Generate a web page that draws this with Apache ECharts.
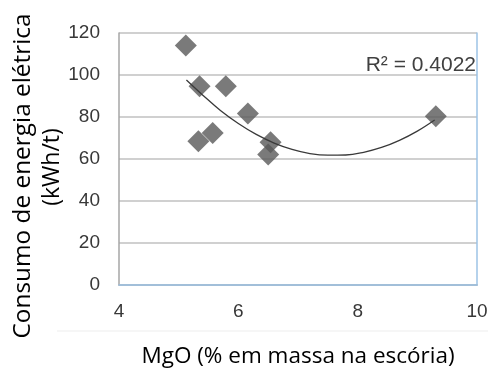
<!DOCTYPE html>
<html><head><meta charset="utf-8">
<script src="https://cdn.jsdelivr.net/npm/echarts@6/dist/echarts.min.js"></script>
<style>html,body{margin:0;padding:0;background:#fff}#c{width:488px;height:374px}</style>
</head><body><div id="c"></div>
<script>
const mgo = [5.12, 5.35, 5.79, 6.16, 5.33, 5.57, 6.54, 6.50, 9.31];
const energia = [114, 94.7, 94.7, 81.7, 68.4, 72.4, 68.0, 62.1, 80.4];
const trendX = [5.13, 5.4, 5.7, 6.0, 6.3, 6.6, 6.9, 7.2, 7.5, 7.8, 8.1, 8.4, 8.7, 9.0, 9.29];
const trendY = [97.6, 90.5, 83.1, 76.9, 71.7, 67.6, 64.6, 62.6, 61.8, 61.9, 63.2, 65.5, 68.9, 73.3, 78.6];
const xTicks = [4, 6, 8, 10];
const yTicks = [0, 20, 40, 60, 80, 100, 120];
const xTitle = 'MgO (% em massa na escória)';
const yTitle = ['Consumo de energia elétrica', '(kWh/t)'];
const r2Text = 'R² = 0.4022';

const chart = echarts.init(document.getElementById('c'), null, {renderer: 'canvas'});
const tickFont = {fontFamily: 'Liberation Sans', fontSize: 19, color: '#383838'};
chart.setOption({
  animation: false,
  grid: {left: 119, right: 11, top: 33, bottom: 89, outerBoundsMode: 'none', containLabel: false},
  xAxis: [{
    type: 'value', min: xTicks[0], max: xTicks[xTicks.length - 1], interval: 2,
    axisLine: {lineStyle: {color: '#a6a6a6', width: 1.5}},
    axisTick: {show: false}, splitLine: {show: false},
    axisLabel: Object.assign({margin: 17}, tickFont),
    name: xTitle, nameLocation: 'middle', nameGap: 60,
    nameTextStyle: {fontFamily: 'Open Sans', fontSize: 22.5, color: '#000'}
  }, {
    type: 'value', position: 'top', min: 4, max: 10, interval: 2,
    axisLine: {show: true, lineStyle: {color: '#9dc3e6', width: 1.5}},
    axisTick: {show: false}, axisLabel: {show: false}, splitLine: {show: false}
  }],
  yAxis: [{
    type: 'value', min: yTicks[0], max: yTicks[yTicks.length - 1], interval: 20,
    axisLine: {show: true, lineStyle: {color: '#a6a6a6', width: 1.5}},
    axisTick: {show: false},
    splitLine: {lineStyle: {color: '#c0c0c0', width: 1.5}},
    axisLabel: Object.assign({margin: 19}, tickFont)
  }, {
    type: 'value', position: 'right', min: 0, max: 120, interval: 20,
    axisLine: {show: true, lineStyle: {color: '#9dc3e6', width: 1.5}},
    axisTick: {show: false}, axisLabel: {show: false}, splitLine: {show: false}
  }],
  series: [{
    type: 'scatter', symbol: 'diamond', symbolSize: 22,
    itemStyle: {color: '#595959'},
    data: mgo.map((x, i) => [x, energia[i]]), z: 3
  }, {
    type: 'line', smooth: 0.4, showSymbol: false, symbol: 'none',
    lineStyle: {color: '#3a3a3a', width: 1.3},
    data: trendX.map((x, i) => [x, trendY[i]]), z: 4
  }],
  graphic: [{
    type: 'line', shape: {x1: 57, y1: 331, x2: 488, y2: 331},
    style: {stroke: '#f3f3f3', lineWidth: 1.5}, silent: true
  }, {
    type: 'text', x: 476, y: 65,
    style: {text: r2Text, fontFamily: 'Liberation Sans', fontSize: 21, fill: '#404040', align: 'right', verticalAlign: 'middle'}
  }, {
    type: 'text', x: 23, y: 176, rotation: Math.PI / 2, scaleX: 1.06,
    style: {text: yTitle[0], fontFamily: 'Open Sans', fontSize: 23, fill: '#000', align: 'center', verticalAlign: 'middle'}
  }, {
    type: 'text', x: 52, y: 167, rotation: Math.PI / 2,
    style: {text: yTitle[1], fontFamily: 'Open Sans', fontSize: 23, fill: '#000', align: 'center', verticalAlign: 'middle'}
  }]
});
</script></body></html>
